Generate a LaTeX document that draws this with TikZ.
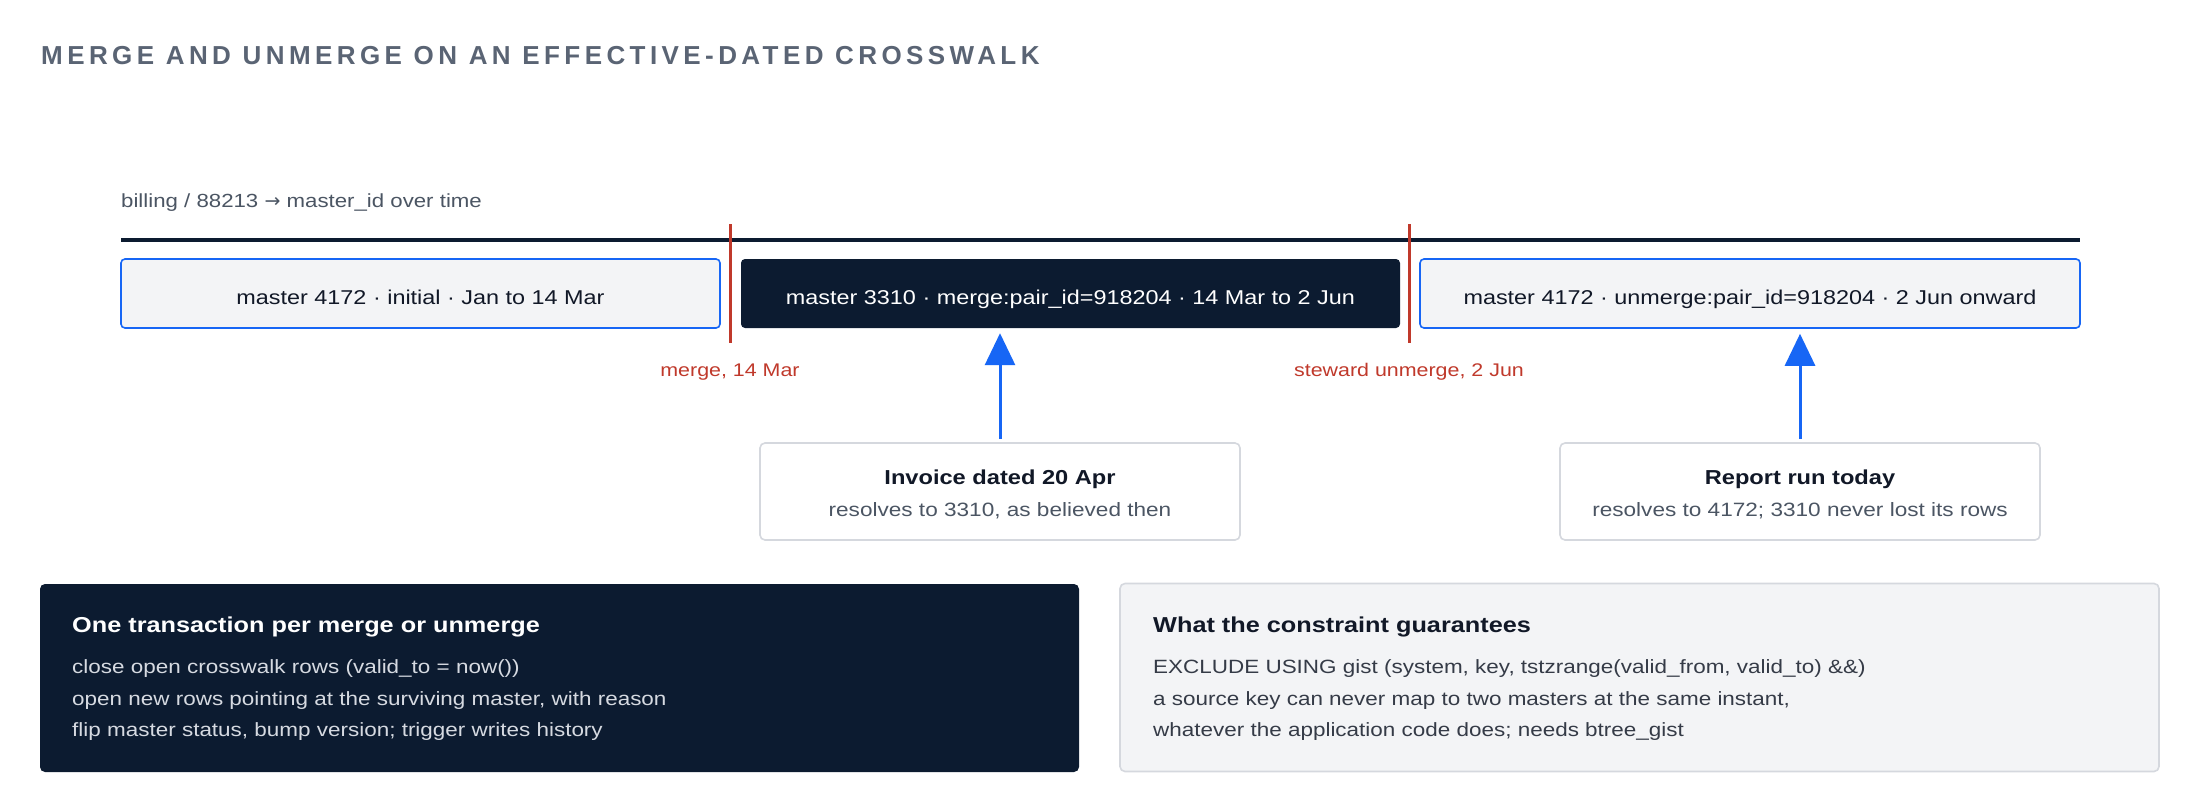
\documentclass[tikz,border=0pt]{standalone}
\usepackage{fontspec}
\setmainfont{Liberation Sans}[FakeStretch=1.17]
\newfontfamily\titlefont{Liberation Sans}[LetterSpace=17]
\newfontfamily\symfont{DejaVu Sans}
\usetikzlibrary{arrows.meta,calc}
\definecolor{navy}{HTML}{0C1B30}
\definecolor{blu}{HTML}{1766F5}
\definecolor{redl}{HTML}{C0392B}
\definecolor{lightfill}{HTML}{F3F4F6}
\definecolor{lightline}{HTML}{D5D8DE}
\definecolor{ink}{HTML}{111827}
\definecolor{muted}{HTML}{4B5563}
\definecolor{titlegray}{HTML}{5A6474}
\definecolor{softw}{HTML}{D6DAE1}
\tikzset{
  seg/.style={rounded corners=4pt, minimum height=69pt, inner sep=0pt,
    text height=22pt, text depth=1pt, font=\fontsize{20}{24}\selectfont},
  segopen/.style={seg, draw=blu, line width=1.6pt, fill=lightfill, text=ink},
  segdark/.style={seg, fill=navy, text=white},
  cutline/.style={draw=redl, line width=3pt},
  cutlabel/.style={anchor=base, text=redl, inner sep=0pt, font=\fontsize{18.3}{22}\selectfont},
  callout/.style={draw=lightline, line width=1.6pt, fill=white, rounded corners=5pt,
    minimum width=480pt, minimum height=97pt, inner sep=0pt},
  calhead/.style={anchor=base, inner sep=0pt, text=ink, font=\fontsize{20.2}{24}\selectfont\bfseries},
  calbody/.style={anchor=base, inner sep=0pt, text=muted, font=\fontsize{19.3}{24}\selectfont},
  pointer/.style={draw=blu, line width=3pt, -{Triangle[width=30pt,length=32pt]}},
  panel/.style={rounded corners=5pt, minimum width=1039pt, minimum height=188pt, inner sep=0pt},
  panhead/.style={anchor=base west, inner sep=0pt, font=\fontsize{21.6}{26}\selectfont\bfseries},
  panline/.style={anchor=base west, inner sep=0pt, font=\fontsize{19.2}{24}\selectfont},
}
\begin{document}
\begin{tikzpicture}[x=1pt,y=-1pt]
\useasboundingbox (0,0) rectangle (2200,800);
\fill[white] (0,0) rectangle (2200,800);

% title
\node[anchor=base west, inner sep=0pt, text=titlegray, font=\titlefont\bfseries\fontsize{26}{30}\selectfont]
  (title) at (41,64) {MERGE AND UNMERGE ON AN EFFECTIVE-DATED CROSSWALK};

% subtitle
\node[anchor=base west, inner sep=0pt, text=muted, font=\fontsize{19}{24}\selectfont]
  (sub) at (121,207) {billing / 88213 {\symfont\fontsize{19}{22}\selectfont →} master\_id over time};

% timeline axis
\coordinate (axL) at (121,240);
\coordinate (axR) at (2080,240);
\draw[navy, line width=4pt] (axL) -- (axR);

% segments
\node[segopen, minimum width=599pt] (s1) at (420.5,293.5) {master 4172 · initial · Jan to 14 Mar};
\node[segdark, minimum width=659pt] (s2) at (1070.5,293.5) {master 3310 · merge:pair\_id=918204 · 14 Mar to 2 Jun};
\node[segopen, minimum width=660pt] (s3) at (1750,293.5) {master 4172 · unmerge:pair\_id=918204 · 2 Jun onward};

% cut lines
\coordinate (c1t) at (730,224);
\coordinate (c1b) at (730,343);
\coordinate (c2t) at (1409,224);
\coordinate (c2b) at (1409,343);
\draw[cutline] (c1t) -- (c1b);
\draw[cutline] (c2t) -- (c2b);
\node[cutlabel] (l1) at (730,376) {merge, 14 Mar};
\node[cutlabel] (l2) at (1409,376) {steward unmerge, 2 Jun};

% callouts
\node[callout] (inv) at (1000,491.5) {};
\node[calhead] (invh) at (1000,484) {Invoice dated 20 Apr};
\node[calbody] (invb) at (1000,516) {resolves to 3310, as believed then};
\node[callout] (rep) at (1800,491.5) {};
\node[calhead] (reph) at (1800,484) {Report run today};
\node[calbody] (repb) at (1800,516) {resolves to 4172; 3310 never lost its rows};

\draw[pointer, shorten <=3pt, shorten >=5pt] (inv.north) -- (inv.north |- s2.south);
\draw[pointer, shorten <=3pt, shorten >=5pt] (rep.north) -- (rep.north |- s3.south);

% bottom panels
\node[panel, fill=navy] (pL) at (559.5,678) {};
\node[panhead, text=white] (pLh) at (72,632) {One transaction per merge or unmerge};
\node[panline, text=softw] (pL1) at (72,673) {close open crosswalk rows (valid\_to = now())};
\node[panline, text=softw] (pL2) at (72,705) {open new rows pointing at the surviving master, with reason};
\node[panline, text=softw] (pL3) at (72,736) {flip master status, bump version; trigger writes history};

\node[panel, fill=lightfill, draw=lightline, line width=1.6pt] (pR) at (1639.5,677.5) {};
\node[panhead, text=ink] (pRh) at (1153,632) {What the constraint guarantees};
\node[panline, text=ink!85] (pR1) at (1153,673) {EXCLUDE USING gist (system, key, tstzrange(valid\_from, valid\_to) \&\&)};
\node[panline, text=ink!85] (pR2) at (1153,705) {a source key can never map to two masters at the same instant,};
\node[panline, text=ink!85] (pR3) at (1153,736) {whatever the application code does; needs btree\_gist};
\end{tikzpicture}
\end{document}
